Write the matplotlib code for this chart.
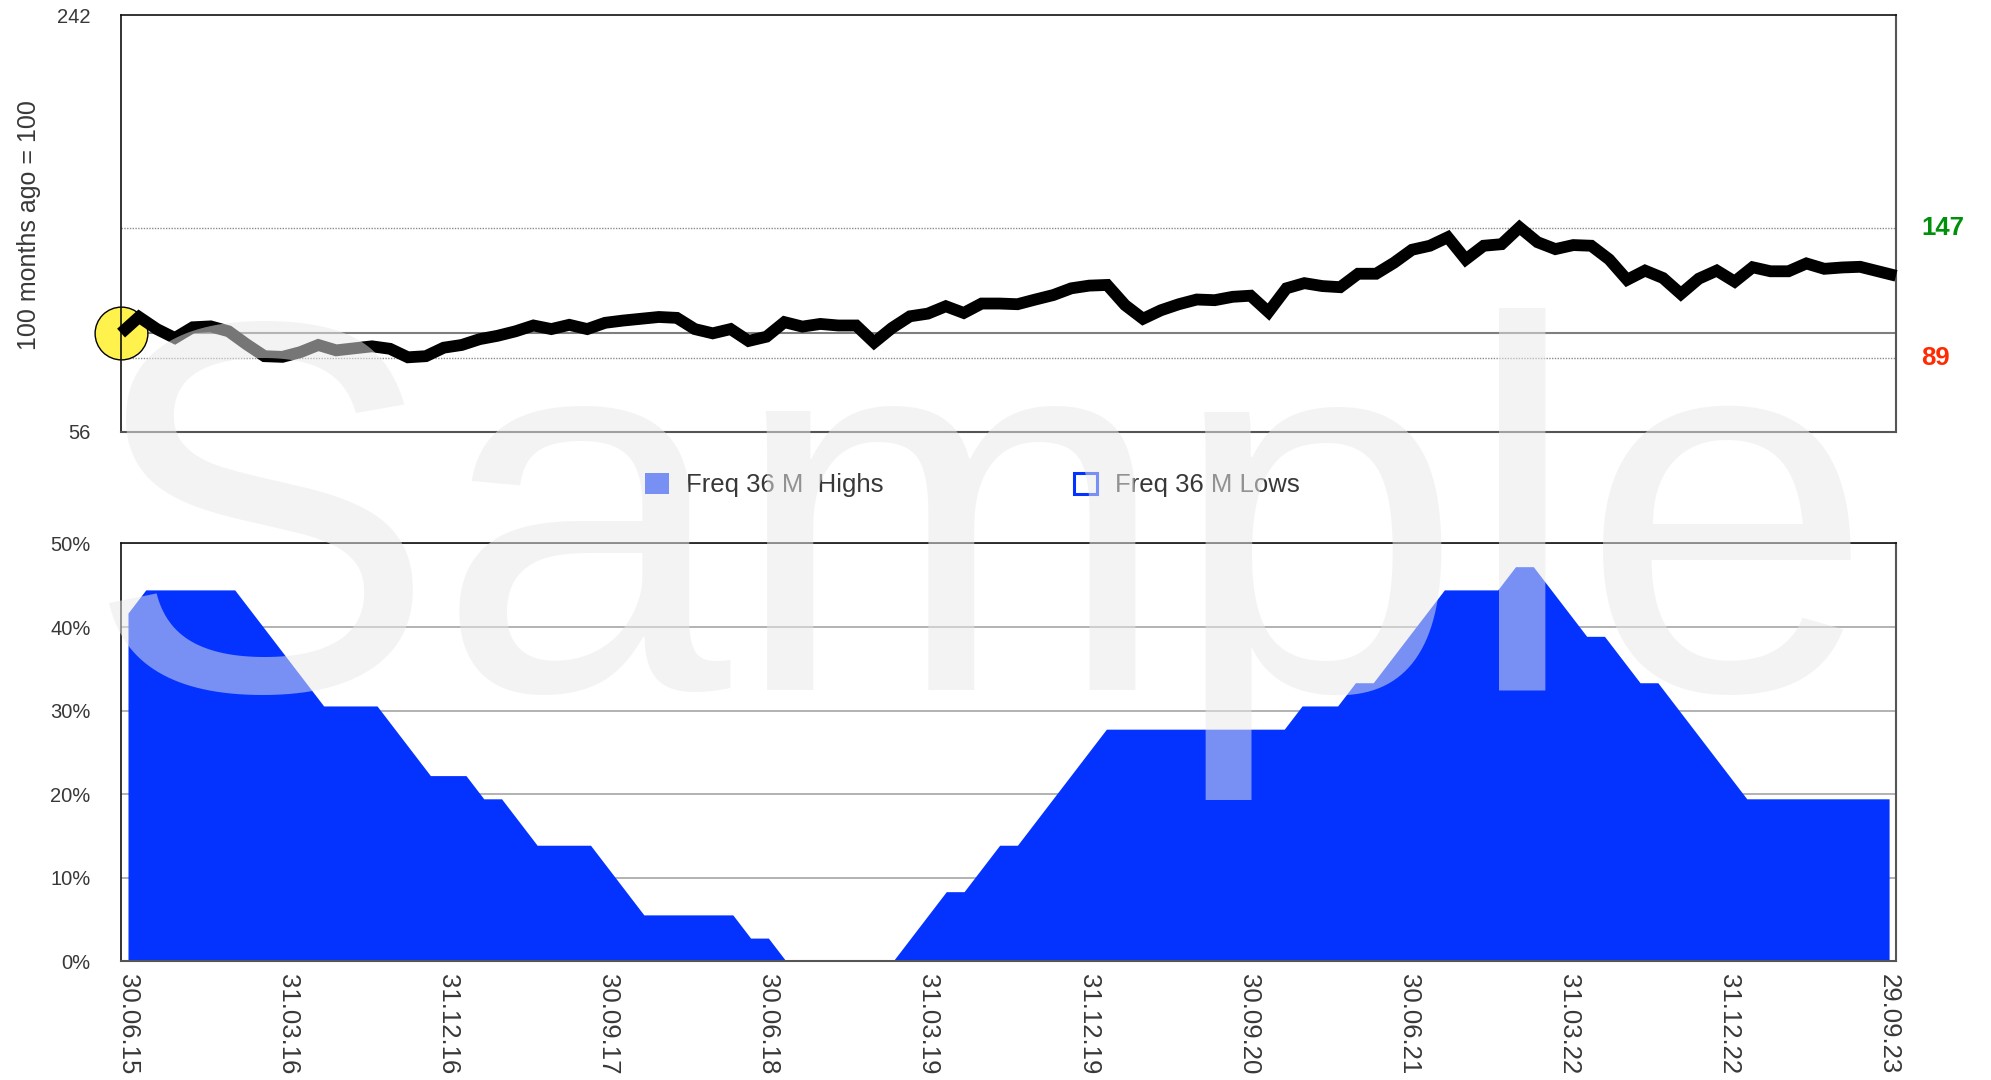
import numpy as np
import matplotlib
matplotlib.use('Agg')
import matplotlib.pyplot as plt
import matplotlib.patches as mpatches
import matplotlib.transforms as mtransforms
from matplotlib.ticker import PercentFormatter

plt.rcParams['font.family'] = ['Liberation Sans', 'DejaVu Sans']

# ---------------------------------------------------------------------------
# Data (monthly, 30.06.15 .. 29.09.23)
# ---------------------------------------------------------------------------
tick_labels = ['30.06.15', '31.03.16', '31.12.16', '30.09.17', '30.06.18', '31.03.19',
               '31.12.19', '30.09.20', '30.06.21', '31.03.22', '31.12.22', '29.09.23']

# rebased index, 100 months ago = 100
index_values = [
    100.0, 107.2, 101.8, 97.8, 102.6, 103.0, 100.8, 95.0, 89.7, 89.4,
    91.5, 94.7, 92.3, 93.2, 94.1, 93.0, 89.2, 89.7, 93.5, 94.7,
    97.3, 98.8, 100.8, 103.4, 101.8, 103.7, 101.8, 104.6, 105.6, 106.4,
    107.2, 106.8, 101.8, 99.9, 101.8, 96.5, 98.4, 104.9, 102.9, 104.1,
    103.4, 103.4, 95.8, 102.3, 107.5, 108.7, 112.0, 109.0, 113.2, 113.2,
    112.9, 115.0, 117.0, 120.0, 121.2, 121.5, 112.5, 106.4, 110.2, 112.9,
    115.0, 114.7, 116.2, 116.7, 109.4, 120.0, 122.3, 121.0, 120.5, 126.5,
    126.5, 131.4, 137.2, 139.0, 142.8, 132.9, 139.0, 139.7, 147.2, 140.6,
    137.5, 139.3, 139.0, 132.9, 123.8, 127.9, 124.6, 117.5, 124.3, 127.9,
    123.0, 129.4, 127.6, 127.6, 131.1, 128.7, 129.3, 129.6, 127.6, 125.6,
]
index_high = 147
index_low = 89

# number of 36-month highs within the trailing 36 months
highs_count = [
    15, 16, 16, 16, 16, 16, 16, 15, 14, 13,
    12, 11, 11, 11, 11, 10, 9, 8, 8, 8,
    7, 7, 6, 5, 5, 5, 5, 4, 3, 2,
    2, 2, 2, 2, 2, 1, 1, 0, 0, 0,
    0, 0, 0, 0, 1, 2, 3, 3, 4, 5,
    5, 6, 7, 8, 9, 10, 10, 10, 10, 10,
    10, 10, 10, 10, 10, 10, 11, 11, 11, 12,
    12, 13, 14, 15, 16, 16, 16, 16, 17, 17,
    16, 15, 14, 14, 13, 12, 12, 11, 10, 9,
    8, 7, 7, 7, 7, 7, 7, 7, 7, 7,
]
window_months = 36

BLUE = '#0433FF'
TXT = '#383838'

months = np.arange(len(index_values))
highs_pct = np.array(highs_count) / window_months

fig = plt.figure(figsize=(19.91, 10.80), dpi=100)

# --- top panel: rebased index -------------------------------------------------
ax1 = fig.add_axes([0.0608, 0.6003, 0.8915, 0.3858])
ax1.axhline(100, color='#7f7f7f', lw=1.5, zorder=1)
for lvl in (index_high, index_low):
    ax1.axhline(lvl, color='#8c8c8c', lw=1.0, ls=(0, (1, 1)), zorder=1)
ax1.plot(months, index_values, color='black', lw=8.5, solid_joinstyle='miter',
         solid_capstyle='butt', zorder=3, clip_on=False)
ax1.plot(months[0], index_values[0], 'o', ms=38, mfc='#FFF24D', mec='black',
         mew=1.0, zorder=2, clip_on=False)
ax1.set_xlim(0, months[-1])
ax1.set_ylim(56, 242)
ax1.set_xticks([])
ax1.set_yticks([56, 242])
ax1.tick_params(axis='y', length=0, pad=22, labelsize=14.5, labelcolor=TXT)
ax1.set_ylabel('100 months ago = 100', fontsize=18, color=TXT, va='center')
ax1.yaxis.set_label_coords(-0.052, 0.495)

trans = mtransforms.blended_transform_factory(ax1.transAxes, ax1.transData)
ax1.text(1.014, index_high, str(index_high), transform=trans, color='#00900A',
         fontsize=18.5, fontweight='bold', ha='left', va='center')
ax1.text(1.014, index_low, str(index_low), transform=trans, color='#FF2A00',
         fontsize=18.5, fontweight='bold', ha='left', va='center')

# --- bottom panel: frequency of 36M highs ------------------------------------
ax2 = fig.add_axes([0.0608, 0.1099, 0.8915, 0.3869])
ax2.fill_between(months, 0, highs_pct, color=BLUE, lw=0, zorder=2)
ax2.set_xlim(-0.39, months[-1] + 0.39)
ax2.set_ylim(0, 0.5)
ax2.set_yticks(np.arange(0, 0.51, 0.1))
ax2.yaxis.set_major_formatter(PercentFormatter(1.0, decimals=0))
ax2.grid(axis='y', color='#a6a6a6', lw=1.2, zorder=1)
ax2.set_axisbelow(True)
ax2.set_xticks(months[::9])
ax2.set_xticklabels(tick_labels, rotation=-90, va='top', ha='center')
ax2.tick_params(axis='x', length=0, pad=9, labelsize=18.5, labelcolor=TXT)
ax2.tick_params(axis='y', length=0, pad=22, labelsize=14.5, labelcolor=TXT)

for ax in (ax1, ax2):
    for side in ('top', 'left'):
        ax.spines[side].set_color('#111111')
        ax.spines[side].set_linewidth(1.2)
    for side in ('bottom', 'right'):
        ax.spines[side].set_color('#555555')
        ax.spines[side].set_linewidth(1.5)

# --- legend -----------------------------------------------------------------
handles = [mpatches.Patch(facecolor=BLUE, edgecolor='none'),
           mpatches.Patch(facecolor='white', edgecolor=BLUE, lw=2.2)]
fig.legend(handles, ['Freq 36 M  Highs', 'Freq 36 M Lows'], loc='center left',
           bbox_to_anchor=(645 / 1991, 1 - 485 / 1080), ncol=2, frameon=False,
           fontsize=18.5, labelcolor=TXT, handlelength=0.92, handleheight=0.92,
           handletextpad=0.68, columnspacing=7.4, borderpad=0, borderaxespad=0)

# --- watermark ----------------------------------------------------------------
fig.text(85 / 1991, 1 - 690 / 1080, 'Sample', fontsize=380, color='#e9e9e9',
         alpha=0.51, ha='left', va='baseline', zorder=10)

fig.savefig('out.png', dpi=100)
